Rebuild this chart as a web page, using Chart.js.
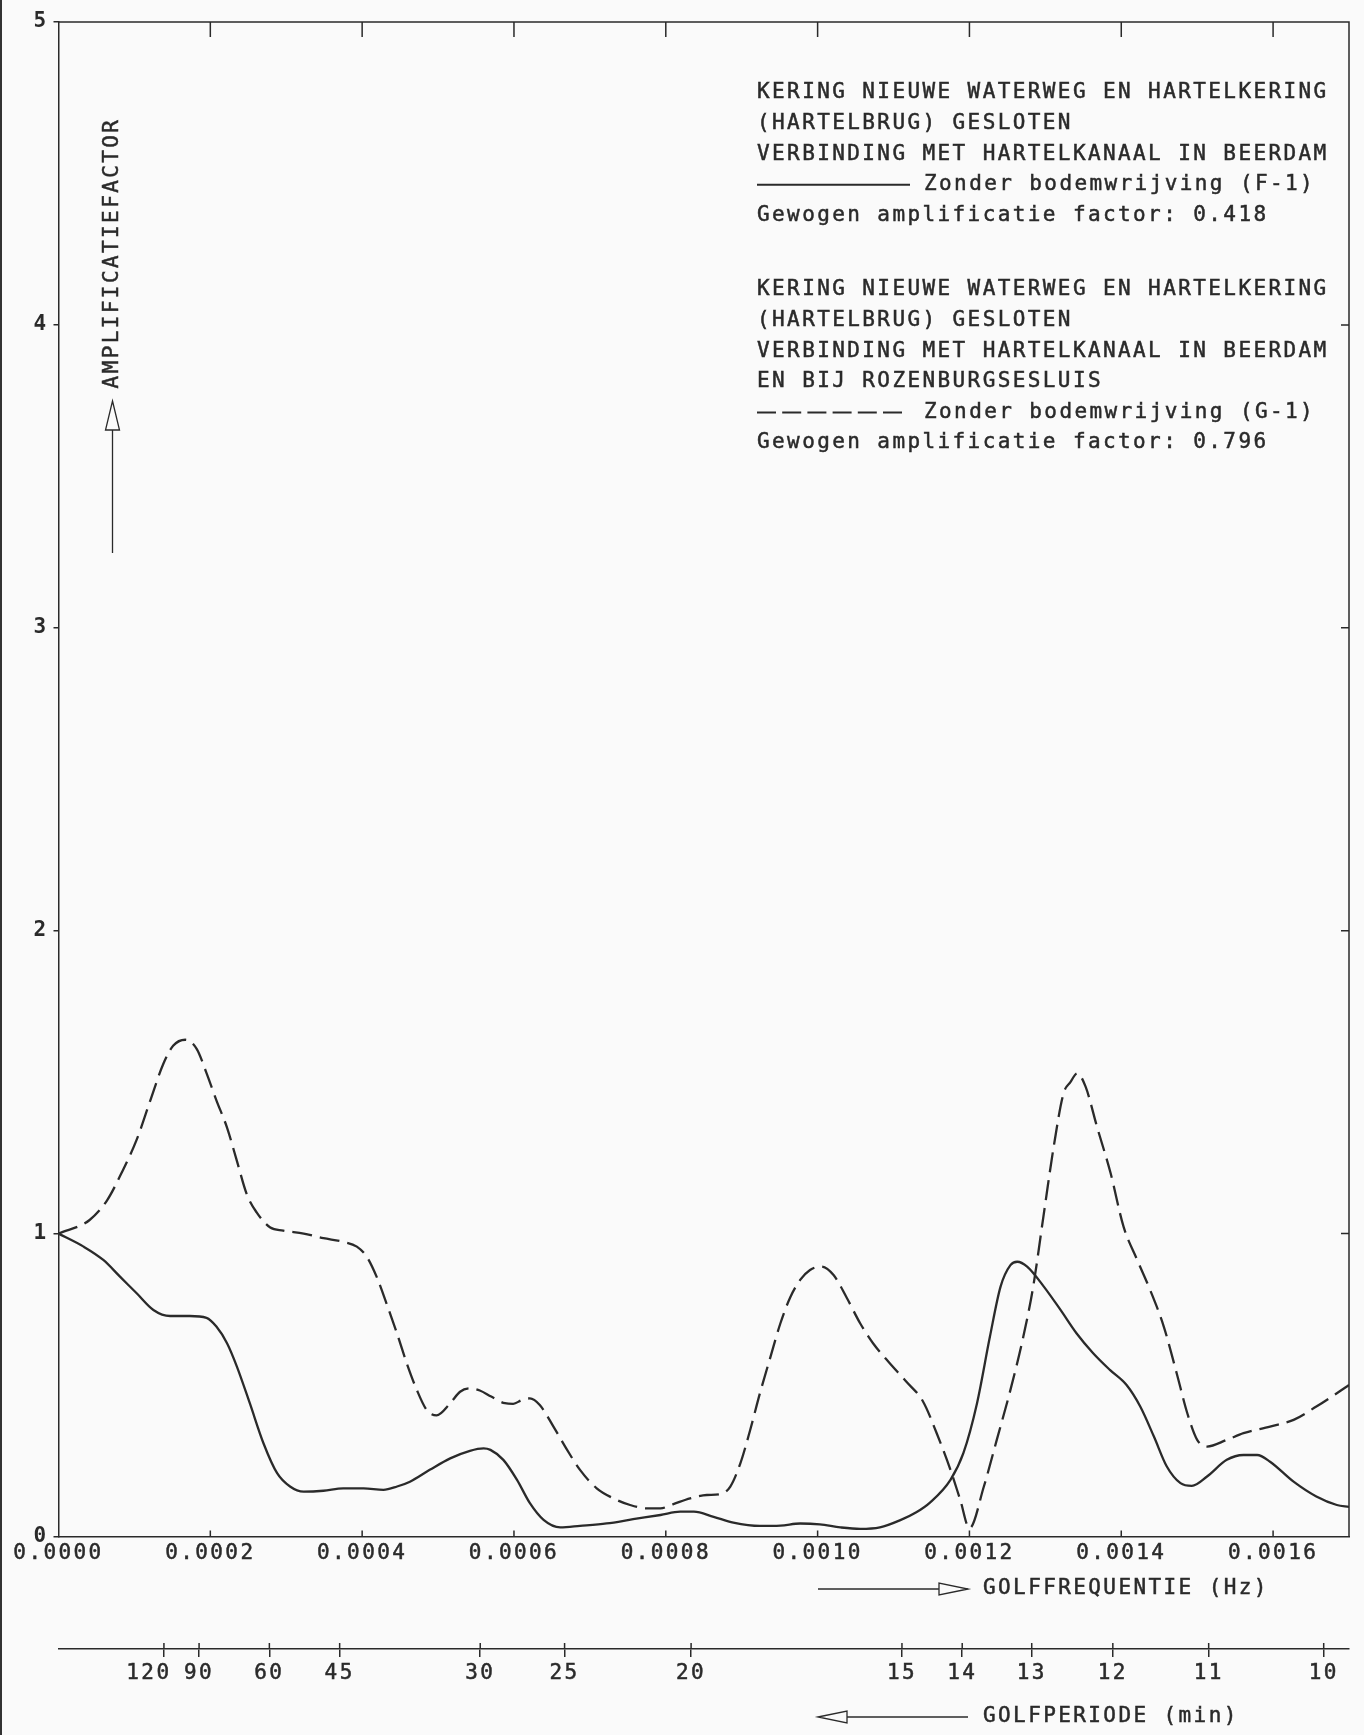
<!DOCTYPE html>
<html lang="nl">
<head>
<meta charset="UTF-8">
<title>Amplificatiefactor Hartelkanaal</title>
<script src="https://cdn.jsdelivr.net/npm/chart.js"></script>
<style>
  body { margin: 0; background: #fafafa; }
  .wrap { position: relative; width: 1364px; height: 1735px; }
  .wrap::before { content: ''; position: absolute; left: 0; top: 0; width: 2px; height: 100%; background: #333; }
  canvas { display: block; }
</style>
</head>
<body>
<div class="wrap"><canvas id="chart" width="1364" height="1735"></canvas></div>
<script>
const freqF = [0, 0.000033, 0.000059, 0.000081, 0.000103, 0.000125, 0.000147, 0.000173, 0.000195, 0.000208,
  0.000222, 0.000235, 0.000252, 0.000270, 0.000288, 0.000305, 0.000323, 0.000349, 0.000375, 0.000402,
  0.000428, 0.000446, 0.000463, 0.000489, 0.000516, 0.000542, 0.000560, 0.000569, 0.000586, 0.000604,
  0.000621, 0.000639, 0.000661, 0.000687, 0.000722, 0.000757, 0.000793, 0.000819, 0.000837, 0.000863,
  0.000889, 0.000924, 0.000951, 0.000977, 0.001003, 0.001030, 0.001056, 0.001082, 0.001109, 0.001130,
  0.001148, 0.001175, 0.001192, 0.001210, 0.001227, 0.001241, 0.001254, 0.001263, 0.001276, 0.001298,
  0.001320, 0.001341, 0.001363, 0.001385, 0.001407, 0.001425, 0.001443, 0.001460, 0.001478, 0.001493,
  0.001513, 0.001539, 0.001561, 0.001579, 0.001596, 0.001627, 0.001657, 0.001684, 0.0017];
const ampF = [1.00, 0.957, 0.913, 0.858, 0.803, 0.748, 0.728, 0.728, 0.722, 0.693,
  0.638, 0.561, 0.44, 0.308, 0.209, 0.165, 0.148, 0.151, 0.159, 0.159,
  0.154, 0.165, 0.181, 0.22, 0.258, 0.283, 0.291, 0.286, 0.253, 0.187,
  0.11, 0.055, 0.03, 0.035, 0.043, 0.057, 0.071, 0.082, 0.082, 0.065,
  0.046, 0.035, 0.036, 0.043, 0.04, 0.03, 0.025, 0.03, 0.054, 0.08,
  0.112, 0.187, 0.275, 0.44, 0.66, 0.825, 0.896, 0.907, 0.891, 0.825,
  0.748, 0.671, 0.605, 0.55, 0.50, 0.429, 0.33, 0.231, 0.176, 0.167,
  0.198, 0.253, 0.269, 0.269, 0.247, 0.181, 0.132, 0.104, 0.098];

const freqG = [0, 0.000041, 0.000064, 0.000083, 0.000103, 0.000121, 0.000138, 0.000151, 0.000167, 0.000182,
  0.000195, 0.000208, 0.000222, 0.000235, 0.000248, 0.000261, 0.000279, 0.000296, 0.000323, 0.000349,
  0.000375, 0.000393, 0.000406, 0.000419, 0.000432, 0.000446, 0.000459, 0.000472, 0.000485, 0.000498,
  0.000516, 0.000529, 0.000542, 0.000555, 0.000570, 0.000588, 0.000599, 0.000610, 0.000621, 0.000634,
  0.000652, 0.000670, 0.000687, 0.000709, 0.000731, 0.000753, 0.000775, 0.000793, 0.000810, 0.000832,
  0.000854, 0.000872, 0.000885, 0.000898, 0.000911, 0.000924, 0.000938, 0.000951, 0.000964, 0.000977,
  0.000990, 0.001005, 0.001021, 0.001038, 0.001056, 0.001073, 0.001095, 0.001117, 0.001139, 0.001157,
  0.001175, 0.001188, 0.001200, 0.001219, 0.001236, 0.001254, 0.001271, 0.001284, 0.001298, 0.001311,
  0.001324, 0.001333, 0.001342, 0.001353, 0.001368, 0.001386, 0.001403, 0.001421, 0.001438, 0.001456,
  0.001473, 0.001487, 0.001500, 0.001513, 0.001539, 0.001561, 0.001596, 0.001627, 0.001657, 0.001684, 0.0017];
const ampG = [1.00, 1.045, 1.11, 1.20, 1.31, 1.44, 1.56, 1.62, 1.64, 1.61,
  1.53, 1.44, 1.35, 1.24, 1.13, 1.07, 1.02, 1.01, 1.00, 0.985,
  0.973, 0.957, 0.924, 0.858, 0.77, 0.67, 0.57, 0.484, 0.418, 0.40,
  0.44, 0.478, 0.489, 0.482, 0.462, 0.44, 0.438, 0.45, 0.456, 0.434,
  0.363, 0.286, 0.22, 0.159, 0.126, 0.104, 0.093, 0.093, 0.107, 0.126,
  0.137, 0.14, 0.165, 0.24, 0.35, 0.473, 0.594, 0.704, 0.79, 0.847,
  0.88, 0.891, 0.863, 0.79, 0.704, 0.638, 0.572, 0.511, 0.445, 0.34,
  0.22, 0.12, 0.027, 0.165, 0.319, 0.484, 0.66, 0.825, 1.066, 1.287,
  1.463, 1.50, 1.529, 1.485, 1.353, 1.199, 1.023, 0.913, 0.814, 0.693,
  0.539, 0.407, 0.319, 0.297, 0.319, 0.341, 0.363, 0.385, 0.429, 0.473, 0.50];

const freqTicks = [0, 0.0002, 0.0004, 0.0006, 0.0008, 0.0010, 0.0012, 0.0014, 0.0016];
const periodTicks = [120, 90, 60, 45, 30, 25, 20, 15, 14, 13, 12, 11, 10]; // minuten
const ampTicks = [0, 1, 2, 3, 4, 5];

const legendF = ['KERING NIEUWE WATERWEG EN HARTELKERING', '(HARTELBRUG) GESLOTEN',
  'VERBINDING MET HARTELKANAAL IN BEERDAM'];
const labelF = 'Zonder bodemwrijving (F-1)';
const factorF = 'Gewogen amplificatie factor: 0.418';
const legendG = ['KERING NIEUWE WATERWEG EN HARTELKERING', '(HARTELBRUG) GESLOTEN',
  'VERBINDING MET HARTELKANAAL IN BEERDAM', 'EN BIJ ROZENBURGSESLUIS'];
const labelG = 'Zonder bodemwrijving (G-1)';
const factorG = 'Gewogen amplificatie factor: 0.796';

const INK = '#2a2a2a';
const FONT = '"DejaVu Sans Mono", monospace';
const SPACING = '2.4px';

Chart.defaults.font.family = FONT;
Chart.defaults.font.size = 21;
Chart.defaults.color = INK;

// pijl met open driehoekige punt
function arrow(ctx, x1, y1, x2, y2, len, half) {
  const a = Math.atan2(y2 - y1, x2 - x1);
  const bx = x2 - Math.cos(a) * len, by = y2 - Math.sin(a) * len;
  const px = -Math.sin(a) * half, py = Math.cos(a) * half;
  ctx.beginPath();
  ctx.moveTo(x1, y1);
  ctx.lineTo(bx, by);
  ctx.stroke();
  ctx.beginPath();
  ctx.moveTo(x2, y2);
  ctx.lineTo(bx + px, by + py);
  ctx.lineTo(bx - px, by - py);
  ctx.closePath();
  ctx.stroke();
}

// tekst iets aangezet, zoals de plotterpen
function penText(ctx, t, x, y) {
  ctx.fillText(t, x, y);
  ctx.strokeText(t, x, y);
}

const plotter = {
  id: 'plotter',
  beforeDraw(chart) {
    chart.ctx.letterSpacing = SPACING;
  },
  afterDraw(chart) {
    const ctx = chart.ctx;
    const a = chart.chartArea;
    const sx = chart.scales.x, sy = chart.scales.y, s2 = chart.scales.x2;
    ctx.save();
    ctx.letterSpacing = SPACING;
    ctx.strokeStyle = INK;
    ctx.fillStyle = INK;
    ctx.lineWidth = 1.5;

    // kader boven en rechts
    ctx.beginPath();
    ctx.moveTo(a.left, a.top);
    ctx.lineTo(a.right, a.top);
    ctx.lineTo(a.right, a.bottom);
    ctx.stroke();

    // tickjes naar binnen
    ctx.beginPath();
    freqTicks.slice(1).forEach(v => {
      const x = sx.getPixelForValue(v);
      ctx.moveTo(x, a.top); ctx.lineTo(x, a.top + 15);
      ctx.moveTo(x, a.bottom); ctx.lineTo(x, a.bottom - 6);
    });
    ampTicks.slice(1, -1).forEach(v => {
      const y = sy.getPixelForValue(v);
      ctx.moveTo(a.right, y); ctx.lineTo(a.right - 8, y);
    });
    // periode-as: tickjes ook boven de lijn
    periodTicks.forEach(p => {
      const x = s2.getPixelForValue(1 / (p * 60));
      ctx.moveTo(x, s2.top); ctx.lineTo(x, s2.top - 6);
    });
    ctx.stroke();

    ctx.lineWidth = 1.3;
    ctx.font = '21px ' + FONT;
    ctx.textBaseline = 'middle';

    // y-as titel met pijl
    ctx.save();
    ctx.lineWidth = 0.5;
    ctx.translate(a.left + 54, 253);
    ctx.rotate(-Math.PI / 2);
    ctx.textAlign = 'center';
    penText(ctx, 'AMPLIFICATIEFACTOR', 0, 0);
    ctx.restore();
    arrow(ctx, a.left + 54, 553, a.left + 54, 401, 29, 7);

    // x-as titels
    ctx.textAlign = 'left';
    const yF = sx.bottom - 60, yP = s2.bottom - 18;
    arrow(ctx, 818, yF, 968, yF, 29, 6);
    arrow(ctx, 968, yP, 818, yP, 29, 6);
    ctx.lineWidth = 0.5;
    penText(ctx, 'GOLFFREQUENTIE (Hz)', 983, yF);
    penText(ctx, 'GOLFPERIODE (min)', 983, yP);

    // legenda
    const lx = 757, step = 30.6;
    let y = 93;
    legendF.forEach(t => { penText(ctx, t, lx, y); y += step; });
    ctx.lineWidth = 2;
    ctx.beginPath(); ctx.moveTo(lx, y); ctx.lineTo(910, y); ctx.stroke();
    ctx.lineWidth = 0.5;
    penText(ctx, labelF, 924, y); y += step;
    penText(ctx, factorF, lx, y);

    y = 290;
    legendG.forEach(t => { penText(ctx, t, lx, y); y += step; });
    ctx.lineWidth = 2;
    ctx.setLineDash([19, 6.2]);
    ctx.beginPath(); ctx.moveTo(lx, y); ctx.lineTo(903, y); ctx.stroke();
    ctx.setLineDash([]);
    ctx.lineWidth = 0.5;
    penText(ctx, labelG, 924, y); y += step;
    penText(ctx, factorG, lx, y);
    ctx.restore();
  }
};

const toPoints = (xs, ys) => xs.map((x, i) => ({ x: x, y: ys[i] }));
const pen = { textStrokeColor: INK, textStrokeWidth: 0.5 };

new Chart(document.getElementById('chart'), {
  type: 'line',
  data: {
    datasets: [
      {
        label: 'Zonder bodemwrijving (F-1)',
        data: toPoints(freqF, ampF),
        borderColor: INK,
        borderWidth: 2.3,
        pointRadius: 0,
        cubicInterpolationMode: 'monotone',
        xAxisID: 'x'
      },
      {
        label: 'Zonder bodemwrijving (G-1)',
        data: toPoints(freqG, ampG),
        borderColor: INK,
        borderWidth: 2.3,
        borderDash: [20, 8],
        pointRadius: 0,
        cubicInterpolationMode: 'monotone',
        xAxisID: 'x'
      }
    ]
  },
  options: {
    responsive: false,
    animation: false,
    layout: { padding: { top: 22, right: 15, left: 0, bottom: 0 } },
    plugins: { legend: { display: false }, tooltip: { enabled: false } },
    scales: {
      x: {
        type: 'linear',
        min: 0,
        max: 0.0017,
        afterBuildTicks: s => { s.ticks = freqTicks.map(v => ({ value: v })); },
        afterFit: s => { s.height = 112.5; },
        ticks: { autoSkip: false, maxRotation: 0, padding: 4, callback: v => v.toFixed(4), ...pen },
        grid: { drawOnChartArea: false, drawTicks: false },
        border: { color: INK, width: 1.5 }
      },
      x2: {
        type: 'linear',
        position: 'bottom',
        min: 0,
        max: 0.0017,
        afterBuildTicks: s => { s.ticks = periodTicks.map(p => ({ value: 1 / (p * 60) })); },
        afterFit: s => { s.height = 86; },
        ticks: {
          autoSkip: false, maxRotation: 0, padding: 4, ...pen,
          // 120 staat iets naar links om niet tegen 90 aan te lopen
          callback: v => { const p = Math.round(1 / (v * 60)); return p === 120 ? '120  ' : String(p); }
        },
        grid: { drawOnChartArea: false, tickLength: 8, color: INK, lineWidth: 1.5 },
        border: { color: INK, width: 1.5 }
      },
      y: {
        min: 0,
        max: 5,
        afterBuildTicks: s => { s.ticks = ampTicks.map(v => ({ value: v })); },
        afterFit: s => { s.width = 58.5; },
        ticks: { padding: 5, font: { weight: 'bold' } },
        grid: { drawOnChartArea: false, tickLength: 5, color: INK, lineWidth: 1.5 },
        border: { color: INK, width: 1.5 }
      }
    }
  },
  plugins: [plotter]
});
</script>
</body>
</html>
